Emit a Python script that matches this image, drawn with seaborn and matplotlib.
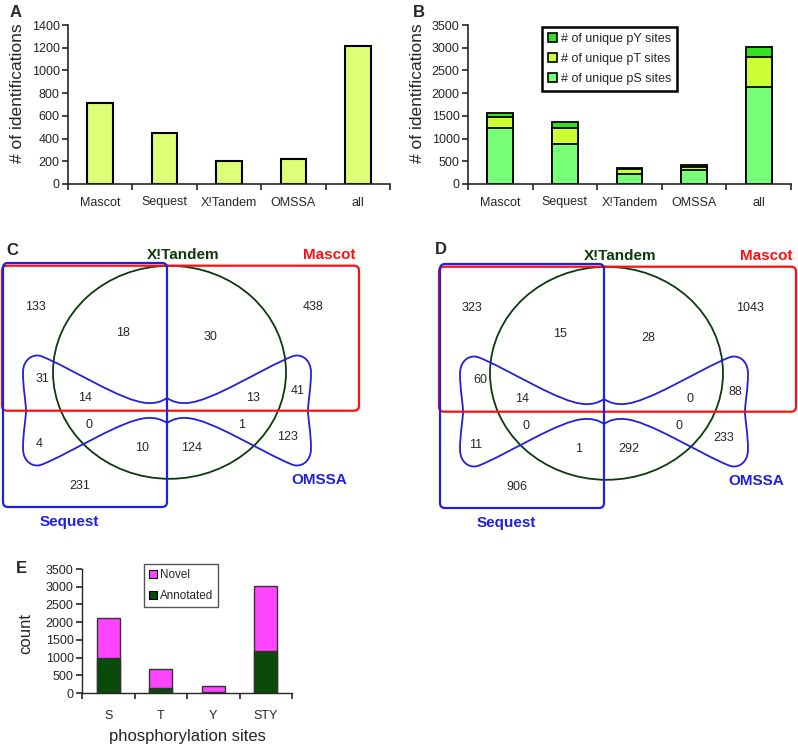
import matplotlib
matplotlib.use("Agg")
import matplotlib.pyplot as plt
import seaborn as sns
import pandas as pd
from matplotlib.patches import Patch, Ellipse, FancyBboxPatch, PathPatch
from matplotlib.path import Path

# panel A: identifications per search engine
engines = ["Mascot", "Sequest", "X!Tandem", "OMSSA", "all"]
n_ident = [716, 446, 205, 223, 1218]

# panel B: unique phosphosites per engine
ps_sites = [1240, 880, 230, 315, 2130]
pt_sites = [240, 345, 90, 60, 670]
py_sites = [75, 135, 30, 35, 210]

# panel E: annotated vs novel sites
site_types = ["S", "T", "Y", "STY"]
annotated = [1000, 145, 25, 1190]
novel = [1130, 525, 175, 1830]

# panels C / D: venn region counts
venn_c = [133, 18, 30, 438, 31, 14, 13, 41, 0, 1, 4, 10, 124, 123, 231]
venn_d = [323, 15, 28, 1043, 60, 14, 0, 88, 0, 0, 11, 1, 292, 233, 906]

sns.set_style("ticks")
plt.rcParams["font.family"] = ["Liberation Sans", "DejaVu Sans"]

W, H = 798, 747
fig = plt.figure(figsize=(W / 100, H / 100), dpi=100)


def px_axes(x0, y0, x1, y1):
    return fig.add_axes([x0 / W, 1 - y1 / H, (x1 - x0) / W, (y1 - y0) / H])


def style_bar_axes(ax, ncat, ymax, step, lab_fs=9, pad=9):
    ax.set_xlim(-0.5, ncat - 0.5)
    ax.set_ylim(0, ymax)
    ax.set_yticks(range(0, ymax + 1, step))
    ax.set_xticks([i - 0.5 for i in range(ncat + 1)], minor=True)
    ax.tick_params(axis="x", which="major", length=0, pad=pad, labelsize=lab_fs)
    ax.tick_params(axis="x", which="minor", length=4, width=1.2, direction="out")
    ax.tick_params(axis="y", length=4, width=1.2, labelsize=lab_fs, pad=2)
    sns.despine(ax=ax)
    for s in ("left", "bottom"):
        ax.spines[s].set_linewidth(1.2)
    ax.set_xlabel("")


# venn overlay (pixel coordinates)
axv = fig.add_axes([0, 0, 1, 1])
axv.set_xlim(0, W)
axv.set_ylim(H, 0)
axv.axis("off")

RED = "#ff1010"
BLUE = "#2020e0"
DGREEN = "#0c3a0c"

# bowtie upper-left quarter (cusp -> left notch), bezier points
quarter = [(0, -12.5), (-6, -8.5), (-12, -7), (-20, -7.5),
           (-45, -9), (-95, -42), (-125, -54),
           (-133, -57.5), (-144, -52), (-144, -38),
           (-144, -22), (-141, -8), (-141, 0)]
left_half = quarter + [(x, -y) for x, y in reversed(quarter)][1:]
outline = left_half + [(-x, y) for x, y in reversed(left_half)][1:]

region_pos = [(35, 307), (123, 333), (211, 337), (313, 307), (43, 379),
              (85, 398), (253, 398), (298, 391), (89, 425), (242, 425),
              (39, 444), (142, 448), (192, 448), (287, 437), (80, 486)]


def draw_venn(ox, oy, counts):
    red = FancyBboxPatch((2 + ox, 265.7 + oy), 357, 145,
                         boxstyle="round,pad=0,rounding_size=5",
                         fill=False, ec=RED, lw=1.6)
    blue = FancyBboxPatch((3 + ox, 263 + oy), 164, 244,
                          boxstyle="round,pad=0,rounding_size=5",
                          fill=False, ec=BLUE, lw=1.6)
    circ = Ellipse((169.5 + ox, 372.3 + oy), 233, 213, fill=False, ec=DGREEN, lw=1.3)
    verts = [(167 + ox + x, 410.5 + oy + y) for x, y in outline]
    codes = [Path.MOVETO] + [Path.CURVE4] * (len(verts) - 1)
    bow = PathPatch(Path(verts, codes), fill=False, ec=BLUE, lw=1.3)
    for p in (circ, bow, red, blue):
        axv.add_patch(p)
    for (x, y), c in zip(region_pos, counts):
        axv.text(x + ox, y + oy, str(c), ha="center", va="center", fontsize=9)
    bold = dict(ha="center", va="center", fontsize=11, fontweight="bold")
    axv.text(183 + ox, 255 + oy, "X!Tandem", color=DGREEN, **bold)
    axv.text(329 + ox, 255 + oy, "Mascot", color=RED, **bold)
    axv.text(319 + ox, 480 + oy, "OMSSA", color=BLUE, **bold)
    axv.text(69 + ox, 522 + oy, "Sequest", color=BLUE, **bold)


draw_venn(0, 0, venn_c)
draw_venn(437, 1, venn_d)

# panel A
axA = px_axes(68, 25, 390, 184)
dfA = pd.DataFrame({"engine": engines, "n": n_ident})
sns.barplot(data=dfA, x="engine", y="n", color="#ddff77", saturation=1,
            edgecolor="black", linewidth=1.5, width=0.4, ax=axA)
style_bar_axes(axA, 5, 1400, 200)
axA.set_ylabel("# of identifications", fontsize=12.5)
axA.yaxis.set_label_coords(-0.134, 0.57)

# panel B (stacked)
axB = px_axes(468, 25, 791, 184)
dfB = pd.DataFrame({"engine": engines, "pS": ps_sites, "pT": pt_sites, "pY": py_sites})
dfB["pST"] = dfB["pS"] + dfB["pT"]
dfB["pSTY"] = dfB["pST"] + dfB["pY"]
col_py, col_pt, col_ps = "#33e022", "#ccff33", "#77ff77"
for col, c in (("pSTY", col_py), ("pST", col_pt), ("pS", col_ps)):
    sns.barplot(data=dfB, x="engine", y=col, color=c, saturation=1,
                edgecolor="black", linewidth=1.3, width=0.4, ax=axB)
style_bar_axes(axB, 5, 3500, 500)
axB.set_ylabel("# of identifications", fontsize=12.5)
axB.yaxis.set_label_coords(-0.133, 0.57)
handles = [Patch(fc=col_py, ec="black", lw=1.2, label="# of unique pY sites"),
           Patch(fc=col_pt, ec="black", lw=1.2, label="# of unique pT sites"),
           Patch(fc=col_ps, ec="black", lw=1.2, label="# of unique pS sites")]
legB = axB.legend(handles=handles, loc="upper left", bbox_to_anchor=(0.229, 0.99),
                  fontsize=9, fancybox=False, handlelength=0.7, handleheight=0.7,
                  handletextpad=0.3, labelspacing=0.65, borderpad=0.5,
                  framealpha=1, borderaxespad=0)
legB.get_frame().set_edgecolor("black")
legB.get_frame().set_linewidth(1.8)

# panel E (stacked)
axE = px_axes(82, 569, 292, 693)
dfE = pd.DataFrame({"site": site_types, "annotated": annotated, "novel": novel})
dfE["total"] = dfE["annotated"] + dfE["novel"]
col_novel, col_ann = "#ff44ff", "#0a4a0a"
sns.barplot(data=dfE, x="site", y="total", color=col_novel, saturation=1,
            edgecolor="#333333", linewidth=1.0, width=0.43, ax=axE)
sns.barplot(data=dfE, x="site", y="annotated", color=col_ann, saturation=1,
            edgecolor="#333333", linewidth=1.0, width=0.43, ax=axE)
style_bar_axes(axE, 4, 3500, 500, lab_fs=9, pad=12)
axE.spines["left"].set_linewidth(1.0)
axE.spines["bottom"].set_linewidth(1.0)
axE.set_ylabel("count", fontsize=12)
axE.yaxis.set_label_coords(-0.233, 0.476)
axE.set_xlabel("phosphorylation sites", fontsize=12)
axE.xaxis.set_label_coords(0.5, -0.29)
handlesE = [Patch(fc=col_novel, ec="black", lw=0.8, label="Novel"),
            Patch(fc=col_ann, ec="black", lw=0.8, label="Annotated")]
legE = axE.legend(handles=handlesE, loc="upper left", bbox_to_anchor=(0.295, 1.04),
                  fontsize=8.4, fancybox=False, handlelength=0.7, handleheight=0.7,
                  handletextpad=0.3, labelspacing=0.8, borderpad=0.4,
                  framealpha=1, borderaxespad=0)
legE.get_frame().set_edgecolor("#555555")
legE.get_frame().set_linewidth(1.0)

# panel letters
for letter, x, y in (("A", 10, 17), ("B", 413, 17), ("C", 6, 255),
                     ("D", 435, 254), ("E", 16, 573)):
    fig.text(x / W, 1 - y / H, letter, fontsize=12, fontweight="bold", va="baseline")

fig.savefig("out.png", dpi=100)
